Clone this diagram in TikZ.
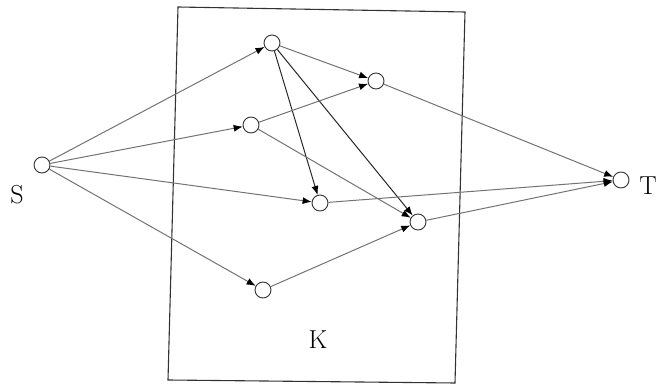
\documentclass[tikz,border=0pt]{standalone}
\usetikzlibrary{arrows.meta}
\begin{document}
\begin{tikzpicture}[x=1pt,y=-1pt,
  vert/.style={circle,draw=black!80,line width=0.9pt,minimum size=16pt,inner sep=0pt,fill=white},
  tip/.style={-{Latex[length=9pt,width=7pt,fill=black,color=black]}},
  edge/.style={draw=black!55,line width=1pt,tip},
  darkedge/.style={draw=black!85,line width=1pt,tip},
  lbl/.style={font=\fontsize{26}{30}\selectfont,inner sep=0pt}]
\useasboundingbox (0,0) rectangle (657,387);
\draw[black!80,line width=1.1pt] (178,7) coordinate (b1) -- (465,12) coordinate (b2) -- (455,383) coordinate (b3) -- (168,380) coordinate (b4) -- cycle;
\node[vert] (S) at (42,165) {};
\node[vert] (A) at (272,43) {};
\node[vert] (B) at (376,81) {};
\node[vert] (C) at (251,125) {};
\node[vert] (D) at (320,203) {};
\node[vert] (E) at (418,222) {};
\node[vert] (F) at (263,290) {};
\node[vert] (T) at (621,180) {};
\node[lbl] (Sl) at (17,195) {S};
\node[lbl] (Tl) at (648,186) {T};
\node[lbl] (K) at (318,340) {K};
\draw[edge] (S) -- (A);
\draw[edge] (S) -- (C);
\draw[edge] (S) -- (D);
\draw[edge] (S) -- (F);
\draw[edge] (A) -- (B);
\draw[darkedge] (A) -- (D);
\draw[darkedge] (A) -- (E);
\draw[edge] (C) -- (B);
\draw[edge] (C) -- (E);
\draw[edge] (F) -- (E);
\draw[edge] (B) -- (T);
\draw[edge] (D) -- (T);
\draw[edge] (E) -- (T);
\end{tikzpicture}
\end{document}
